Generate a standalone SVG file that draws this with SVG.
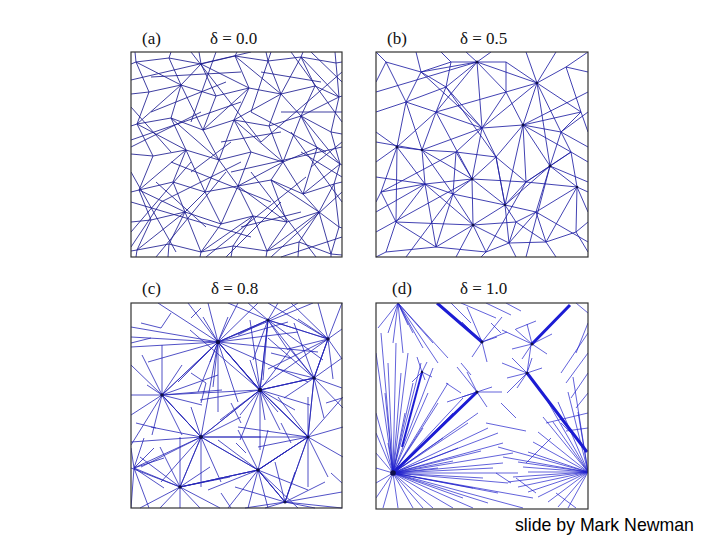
<svg xmlns="http://www.w3.org/2000/svg" width="720" height="540" viewBox="0 0 720 540">
<style>
.lbl{font-family:"Liberation Serif","Times New Roman",serif;font-size:17px;fill:#111}
.frame{fill:none;stroke:#333;stroke-width:1.2}
.ea{fill:none;stroke:#1c1c90;stroke-width:0.85}
.eb{fill:none;stroke:#2020a4;stroke-width:0.85}
.ec{fill:none;stroke:#2424b8;stroke-width:0.8}
.ed{fill:none;stroke:#2020cc;stroke-width:0.7}
.thick{fill:none;stroke:#1c1cd4;stroke-width:3}
.hub{fill:#10104a}
.credit{font-family:"Liberation Sans",Arial,sans-serif;font-size:17.7px;fill:#000}
</style>
<defs>
<clipPath id="clipA"><rect x="0" y="0" width="212" height="206"/></clipPath>
</defs>
<rect width="720" height="540" fill="#fff"/>

<g id="panel-a" transform="translate(131,52)">
<g clip-path="url(#clipA)">
<path class="ea" d="M0 12L5 10 38 6 70 12 104 4 137 9 170 5 205 11 211 10M0 42L18 40 50 33 85 44 118 36 150 42 184 34 208 45 211 44M0 74L6 72 40 66 72 78 103 68 138 74 170 64 200 80 211 82M0 102L22 104 55 98 88 108 120 100 152 110 186 96 209 112 211 113M0 140L8 138 42 130 74 140 107 134 140 128 172 142 203 132 211 130M0 170L20 168 54 160 90 172 122 164 156 170 188 160 208 175 211 176M0 199L6 198 38 192 70 200 102 194 136 199 168 190 200 202 211 203"/>
<path class="ea" d="M4 0L5 10 18 40 6 72 22 104 8 138 20 168 6 198 5 205M40 0L38 6 50 33 40 66 55 98 42 130 54 160 38 192 37 205M68 0L70 12 85 44 72 78 88 108 74 140 90 172 70 200 69 205M106 0L104 4 118 36 103 68 120 100 107 134 122 164 102 194 100 205M135 0L137 9 150 42 138 74 152 110 140 128 156 170 136 199 135 205M172 0L170 5 184 34 170 64 186 96 172 142 188 160 168 190 167 205M204 0L205 11 208 45 200 80 209 112 203 132 208 175 200 202 200 205"/>
<path class="ea" d="M5 10L50 33M70 12L50 33M70 12L118 36M104 4L150 42M170 5L150 42M170 5L208 45M50 33L6 72M50 33L72 78M118 36L72 78M150 42L103 68M150 42L170 64M208 45L170 64M6 72L55 98M40 66L88 108M103 68L88 108M103 68L152 110M170 64L152 110M170 64L209 112M55 98L8 138M55 98L74 140M88 108L107 134M152 110L107 134M152 110L172 142M209 112L172 142M8 138L54 160M74 140L54 160M107 134L90 172M107 134L156 170M140 128L188 160M203 132L188 160M54 160L6 198M54 160L70 200M122 164L70 200M122 164L136 199M188 160L136 199M188 160L200 202"/>
<path class="ea" d="M0 28L120 0M60 0L130 90M0 88L110 50M130 90L211 20M25 205L95 120M100 120L211 95M0 150L120 185M140 205L211 140M160 0L211 70M40 110L140 150M75 205L175 125M120 60L195 100M0 180L60 110M185 205L120 120M20 60L95 30M150 60L211 60M0 55L40 100M85 0L60 70M180 0L211 30M30 150L110 110M150 205L211 185M0 120L45 200M95 205L150 150M160 80L211 150M20 25L110 20M0 95L70 60M90 90L150 80M60 120L100 90M170 100L211 125M130 20L190 30M25 130L75 175M110 175L170 160M0 195L30 150M180 115L211 90M140 0L120 60"/>
</g>
<rect class="frame" x="0" y="0" width="211" height="205"/>
</g>

<g id="panel-b" transform="translate(376,52)">
<g clip-path="url(#clipA)">
<path class="eb" d="M101 10L75 10M101 10L130 10M101 10L70 35M101 10L130 40M101 10L106 76M101 10L45 20M101 10L161 31M101 10L90 0M101 10L115 0M101 10L60 60M161 31L130 40M161 31L190 15M161 31L205 60M161 31L147 73M161 31L185 80M161 31L130 10M161 31L150 0M161 31L180 0M161 31L106 76M147 73L106 76M147 73L130 40M147 73L185 80M147 73L205 60M147 73L174 114M147 73L150 130M147 73L120 105M147 73L195 100M147 73L129 153M106 76L70 35M106 76L60 60M106 76L46 98M106 76L80 100M106 76L120 105M106 76L96 127M106 76L130 40"/>
<path class="eb" d="M21 95L30 50M21 95L46 98M21 95L5 140M21 95L49 132M21 95L0 80M21 95L0 110M21 95L60 60M21 95L20 170M46 98L30 50M46 98L60 60M46 98L49 132M46 98L80 100M46 98L77 142M46 98L96 127M96 127L80 100M96 127L120 105M96 127L77 142M96 127L129 153M96 127L97 173M96 127L49 132M96 127L150 130M174 114L185 80M174 114L195 100M174 114L201 135M174 114L150 130M174 114L129 153M174 114L160 160M174 114L161 31"/>
<path class="eb" d="M129 153L150 130M129 153L133 191M129 153L97 173M129 153L140 170M129 153L160 160M129 153L120 105M129 153L77 142M97 173L77 142M97 173L49 132M97 173L60 195M97 173L110 200M97 173L133 191M97 173L140 170M97 173L20 170M49 132L5 140M49 132L20 170M49 132L77 142M49 132L60 195M77 142L80 100M77 142L60 195M133 191L140 170M133 191L110 200M133 191L170 190M133 191L160 160M133 191L140 205M201 135L195 100M201 135L200 180M201 135L160 160M201 135L170 190M201 135L212 140M201 135L150 130"/>
<path class="eb" d="M10 10L45 20M10 10L30 50M10 10L0 30M45 20L70 35M45 20L30 50M45 20L75 10M70 35L60 60M190 15L205 60M190 15L212 20M205 60L185 80M205 60L212 80M185 80L195 100M195 100L212 110M200 180L170 190M200 180L212 200M170 190L160 160M170 190L180 205M60 195L110 200M60 195L10 200M60 195L20 170M20 170L10 200M20 170L5 140M5 140L0 150M10 200L0 205M110 200L105 205M140 170L160 160M140 170L170 190M120 105L150 130M80 100L120 105M30 50L60 60M75 10L70 35M130 10L130 40M0 60L30 50M40 0L45 20M65 0L75 10M10 10L0 0M0 125L49 132M212 160L201 135M30 50L70 35M185 80L212 95M200 180L212 170"/>
<path class="eb" d="M0 40L101 10M60 60L130 40M0 180L96 127M30 205L77 142M212 40L147 73M212 130L174 114M70 35L120 105M5 140L80 100M150 205L174 114M110 200L150 130M160 160L212 190M0 90L46 98M80 205L97 173M190 15L212 0M60 60L96 127M185 80L212 60M120 105L129 153M45 20L106 76M195 100L150 130M0 160L49 132"/>
<circle class="hub" cx="101" cy="10" r="1.5"/><circle class="hub" cx="147" cy="73" r="1.5"/><circle class="hub" cx="21" cy="95" r="1.5"/><circle class="hub" cx="46" cy="98" r="1.3"/><circle class="hub" cx="96" cy="127" r="1.5"/><circle class="hub" cx="174" cy="114" r="1.5"/><circle class="hub" cx="129" cy="153" r="1.3"/><circle class="hub" cx="97" cy="173" r="1.5"/><circle class="hub" cx="161" cy="31" r="1.3"/><circle class="hub" cx="201" cy="135" r="1.3"/>
</g>
<rect class="frame" x="0" y="0" width="212" height="205"/>
</g>

<g id="panel-c" transform="translate(131,303)">
<g clip-path="url(#clipA)">
<path class="ec" d="M10 20L30 25 40 10M60 70L75 80 70 100M100 100L110 120M150 120L160 140M195 100L211 95M5 120L25 125M90 190L100 205M140 50L160 55M200 170L211 180M105 140L115 150M60 15L70 5M0 40L20 35M87 39L137 17M87 39L129 87M129 87L183 75M31 92L70 134M70 134L177 134M129 87L177 134M127 167L177 134M49 184L127 167M3 165L70 134M137 17L197 36M197 36L183 75M154 199L127 167"/>
<g transform="translate(87,39)"><path class="ec" d="M0 0L-87 -15M0 0L-60 -39M0 0L-30 -39M0 0L-10 -39M0 0L20 -39M0 0L40 -39M0 0L70 -20M0 0L80 -10M0 0L100 10M0 0L90 40M0 0L60 70M0 0L42 48M0 0L20 60M0 0L0 70M0 0L-20 50M0 0L-40 40M0 0L-56 53M0 0L-70 20M0 0L-87 5M0 0L10 -25M0 0L-15 -25M0 0L-5 45M0 0L-8 20M0 0L95 -39M0 0L-87 -5"/></g>
<g transform="translate(137,17)"><path class="ec" d="M0 0L-40 -17M0 0L-20 -17M0 0L10 -17M0 0L30 -17M0 0L60 19M0 0L46 58M0 0L55 40M0 0L-8 70M0 0L-5 60M0 0L-30 15M0 0L-50 22M0 0L20 30M0 0L-15 40"/></g>
<g transform="translate(197,36)"><path class="ec" d="M0 0L-37 -36M0 0L-10 -36M0 0L14 -36M0 0L14 -10M0 0L14 20M0 0L-14 39M0 0L-40 10M0 0L-60 30M0 0L-70 50M0 0L-30 -20M0 0L-60 -36M0 0L5 40"/></g>
<g transform="translate(183,75)"><path class="ec" d="M0 0L-46 -40M0 0L-20 -55M0 0L14 -39M0 0L28 -20M0 0L28 10M0 0L29 30M0 0L10 40M0 0L-6 59M0 0L-30 20M0 0L-54 12M0 0L-40 -10M0 0L-25 -30"/></g>
<g transform="translate(129,87)"><path class="ec" d="M0 0L-42 -48M0 0L-70 -60M0 0L-10 -70M0 0L8 -70M0 0L30 -40M0 0L54 -12M0 0L50 15M0 0L48 47M0 0L20 40M0 0L0 60M0 0L-20 50M0 0L-40 30M0 0L-59 47M0 0L-60 10M0 0L-98 5M0 0L-20 25M0 0L5 30M0 0L-10 -30M0 0L35 20"/></g>
<g transform="translate(31,92)"><path class="ec" d="M0 0L-31 -30M0 0L-31 0M0 0L-31 20M0 0L-20 -40M0 0L0 -50M0 0L20 -30M0 0L56 -53M0 0L56 -20M0 0L40 10M0 0L39 42M0 0L20 40M0 0L-10 40M0 0L-31 50M0 0L-15 -10M0 0L60 -5"/></g>
<g transform="translate(70,134)"><path class="ec" d="M0 0L-39 -42M0 0L-50 -10M0 0L-70 5M0 0L-60 30M0 0L-40 45M0 0L-21 50M0 0L0 50M0 0L20 45M0 0L59 -47M0 0L40 -20M0 0L60 0M0 0L57 33M0 0L-10 -30M0 0L17 -95"/></g>
<g transform="translate(177,134)"><path class="ec" d="M0 0L-48 -47M0 0L-30 -40M0 0L0 -40M0 0L6 -59M0 0L35 -40M0 0L35 -10M0 0L35 20M0 0L20 40M0 0L0 50M0 0L-23 65M0 0L-50 33M0 0L-50 10M0 0L-70 -10"/></g>
<g transform="translate(127,167)"><path class="ec" d="M0 0L-57 -33M0 0L-40 -30M0 0L-20 -40M0 0L10 -40M0 0L30 -20M0 0L50 -33M0 0L27 32M0 0L40 38M0 0L10 38M0 0L-10 38M0 0L-30 38M0 0L-50 20M0 0L-78 17M0 0L50 20"/></g>
<g transform="translate(49,184)"><path class="ec" d="M0 0L-49 -19M0 0L-40 -30M0 0L-20 -40M0 0L0 -50M0 0L21 -50M0 0L30 -20M0 0L50 -10M0 0L78 -17M0 0L40 21M0 0L20 21M0 0L0 21M0 0L-20 21M0 0L-40 21"/></g>
<g transform="translate(3,165)"><path class="ec" d="M0 0L-3 -20M0 0L10 -30M0 0L20 -20M0 0L30 -10M0 0L46 19M0 0L30 20M0 0L15 40M0 0L-3 40"/></g>
<g transform="translate(154,199)"><path class="ec" d="M0 0L-27 -32M0 0L-10 -40M0 0L10 -30M0 0L23 -65M0 0L40 -20M0 0L57 -10M0 0L57 6M0 0L30 6M0 0L-20 6M0 0L-40 6M0 0L-50 -15"/></g>
<circle class="hub" cx="87" cy="39" r="2.2"/><circle class="hub" cx="137" cy="17" r="1.6"/><circle class="hub" cx="197" cy="36" r="1.8"/><circle class="hub" cx="183" cy="75" r="1.8"/><circle class="hub" cx="129" cy="87" r="2.2"/><circle class="hub" cx="31" cy="92" r="1.8"/><circle class="hub" cx="70" cy="134" r="2"/><circle class="hub" cx="177" cy="134" r="1.6"/><circle class="hub" cx="127" cy="167" r="1.8"/><circle class="hub" cx="49" cy="184" r="1.8"/><circle class="hub" cx="154" cy="199" r="1.6"/>
</g>
<rect class="frame" x="0" y="0" width="211" height="205"/>
</g>

<g id="panel-d" transform="translate(376,303)">
<g clip-path="url(#clipA)">
<path class="thick" d="M61 0L106 39M194 2L156 41M151 70L211 149M101 89L17 170"/>
<path class="thick" style="stroke-width:2" d="M46 69L26 144"/>
<g transform="translate(17,170)"><path class="ed" d="M0 0L-17 -120M0 0L-12 -140M0 0L-5 -110M0 0L3 -130M0 0L8 -100M0 0L15 -120M0 0L20 -90M0 0L28 -110M0 0L35 -80M0 0L40 -105M0 0L45 -70M0 0L55 -90M0 0L60 -60M0 0L70 -75M0 0L75 -50M0 0L85 -60M0 0L95 -45M0 0L105 -40M0 0L110 -30M0 0L120 -20M0 0L110 -10M0 0L100 -5M0 0L125 0M0 0L90 5M0 0L115 10M0 0L80 15M0 0L105 20M0 0L70 25M0 0L95 30M0 0L80 35M0 0L60 35M0 0L40 35M0 0L20 35M0 0L5 35M0 0L-10 35M0 0L-17 25M0 0L-17 10M0 0L-17 -5M0 0L-17 -20M0 0L-17 -40M0 0L-17 -60M0 0L-8 -80M0 0L12 -60M0 0L30 -45M0 0L50 -35M0 0L65 -25M0 0L88 -22M0 0L60 -12M0 0L45 -5M0 0L130 35M0 0L140 25M0 0L30 35M0 0L-5 -30"/></g>
<g transform="translate(212,169)"><path class="ed" d="M0 0L-70 -10M0 0L-60 -20M0 0L-65 -5M0 0L-55 -30M0 0L-50 -40M0 0L-45 -55M0 0L-30 -70M0 0L-20 -80M0 0L-15 -95M0 0L-40 -70M0 0L-60 0M0 0L-75 5M0 0L-80 10M0 0L-70 15M0 0L-60 20M0 0L-50 25M0 0L-40 30M0 0L-30 35M0 0L-85 -15M0 0L-20 36M0 0L-10 -60M0 0L-35 -50M0 0L-90 -25"/></g>
<g transform="translate(106,39)"><path class="ed" d="M0 0L-20 -20M0 0L-10 15M0 0L5 20M0 0L15 -5M0 0L25 -10M0 0L-15 -35M0 0L20 -25"/></g>
<g transform="translate(156,41)"><path class="ed" d="M0 0L-30 -14M0 0L-17 -15M0 0L-20 5M0 0L-10 15M0 0L15 10M0 0L20 -10M0 0L-5 -20"/></g>
<g transform="translate(151,70)"><path class="ed" d="M0 0L-25 -10M0 0L-20 5M0 0L-10 15M0 0L-15 -15M0 0L5 -15M0 0L15 -5M0 0L-20 20M0 0L4 -28"/></g>
<g transform="translate(101,89)"><path class="ed" d="M0 0L-20 -25M0 0L-10 -20M0 0L15 -5M0 0L25 0M0 0L10 15M0 0L-15 5M0 0L-30 10"/></g>
<g transform="translate(46,69)"><path class="ed" d="M0 0L-5 -15M0 0L5 -10M0 0L10 5M0 0L-10 10M0 0L3 8"/></g>
<g transform="translate(22,0)"><path class="ed" d="M0 0L-5 40M0 0L5 50M0 0L15 30M0 0L25 45M0 0L35 40M0 0L40 60M0 0L50 55M0 0L-10 30M0 0L-20 25M0 0L10 22"/></g>
<path class="ed" d="M75 0L95 20M85 0L120 15M110 0L135 12M130 0L145 8M140 26L160 18M200 0L212 10M212 30L185 70M212 50L190 80M212 70L195 95M212 90L200 105M212 110L170 120M212 20L200 50M125 100L140 115M110 120L150 128M175 135L150 160M140 175L160 190M120 170L135 180M180 190L200 205M85 60L95 72M70 80L85 90M115 20L125 30M185 120L195 130M212 125L190 128"/>
<circle class="hub" cx="17" cy="170" r="2.8"/><circle class="hub" cx="106" cy="39" r="1.5"/><circle class="hub" cx="156" cy="41" r="1.5"/><circle class="hub" cx="151" cy="70" r="1.5"/><circle class="hub" cx="101" cy="89" r="1.5"/><circle class="hub" cx="46" cy="69" r="1.2"/>
</g>
<rect class="frame" x="0" y="0" width="212" height="206"/>
</g>

<g id="labels">
<text class="lbl" x="142" y="44">(a)</text>
<text class="lbl" x="210" y="44">δ = 0.0</text>
<text class="lbl" x="387" y="44">(b)</text>
<text class="lbl" x="460" y="44">δ = 0.5</text>
<text class="lbl" x="142" y="294">(c)</text>
<text class="lbl" x="211" y="294">δ = 0.8</text>
<text class="lbl" x="392" y="294">(d)</text>
<text class="lbl" x="460" y="294">δ = 1.0</text>
<text class="credit" x="515" y="531">slide by Mark Newman</text>
</g>
</svg>
